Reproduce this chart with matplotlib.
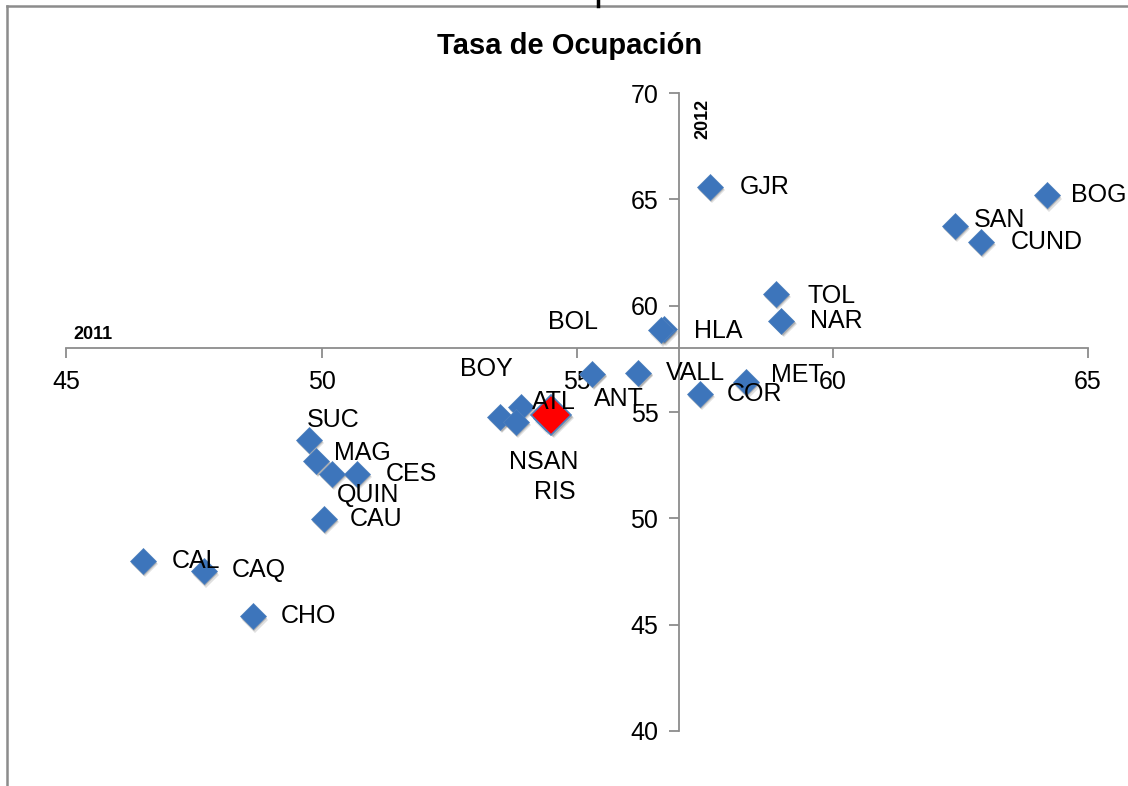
import matplotlib.pyplot as plt
from matplotlib.lines import Line2D
from matplotlib.transforms import offset_copy

plt.rcParams['font.family'] = ['Liberation Sans', 'DejaVu Sans']

# Tasa de ocupacion por departamento: 2011 (x) vs 2012 (y)
deptos = ['BOG', 'SAN', 'CUND', 'GJR', 'TOL', 'NAR', 'HLA', 'BOL', 'VALL', 'MET',
          'COR', 'ANT', 'ATL', 'BOY', 'NSAN', 'RIS', 'SUC', 'MAG', 'QUIN', 'CES',
          'CAU', 'CAL', 'CAQ', 'CHO']
tasa_2011 = [64.2, 62.4, 62.9, 57.6, 58.9, 59.0, 56.7, 56.65, 56.2, 58.3,
             57.4, 55.3, 53.9, 53.5, 53.8, 54.4, 49.75, 49.9, 50.2, 50.7,
             50.05, 46.5, 47.7, 48.65]
tasa_2012 = [65.2, 63.75, 63.0, 65.6, 60.55, 59.3, 58.9, 58.85, 56.84, 56.4,
             55.85, 56.8, 55.24, 54.77, 54.53, 54.7, 53.7, 52.7, 52.1, 52.1,
             49.97, 48.0, 47.5, 45.4]
# offsets of the data labels (pixels) and alignment
label_dx = [24, 19, 30, 30, 31, 29, 30, -63, 28, 25,
            27, 2, 11, -40, -7, -12, -2, 18, 5, 28,
            26, 29, 28, 28]
label_dy = [0, 6, 0, 0, -2, 0, -2, 8, 0, 7,
            0, -25, 5, 48, -40, -74, 20, 8, -21, 0,
            0, 0, 2, 0]
label_ha = ['left'] * 7 + ['right'] + ['left'] * 16

nacional_x = [54.5]
nacional_y = [54.86]

x_ticks = [45, 50, 55, 60, 65]
y_ticks = [40, 45, 50, 55, 60, 65, 70]

W, H = 1128, 786
fig = plt.figure(figsize=(W / 100, H / 100), dpi=100)
ax = fig.add_axes([66 / W, (H - 731) / H, (1088 - 66) / W, (731 - 93) / H])

azul = '#3d75bb'

# soft drop shadow under the markers (two offset layers)
for off, alpha in [(2, 0.25), (3.5, 0.15)]:
    sh = offset_copy(ax.transData, fig=fig, x=off * 0.6, y=-off, units='dots')
    ax.plot(tasa_2011, tasa_2012, linestyle='none', marker='D', markersize=13.5,
            color='#303030', alpha=alpha, markeredgewidth=0, transform=sh, zorder=2)
    ax.plot(nacional_x, nacional_y, linestyle='none', marker='D', markersize=20,
            color='#303030', alpha=alpha, markeredgewidth=0, transform=sh, zorder=2)

ax.plot(tasa_2011, tasa_2012, linestyle='none', marker='D', markersize=13.5,
        color=azul, markeredgecolor='#4f81bd', markeredgewidth=0.5, zorder=3)
ax.plot(nacional_x, nacional_y, linestyle='none', marker='D', markersize=20,
        color='#ff0000', markeredgecolor='#4f81bd', markeredgewidth=1.2, zorder=4)

for name, x, y, dx, dy, ha in zip(deptos, tasa_2011, tasa_2012, label_dx, label_dy, label_ha):
    ax.annotate(name, (x, y), xytext=(dx, dy), textcoords='offset pixels',
                ha=ha, va='center', fontsize=18, color='black', zorder=5)

ax.set_xlim(45, 65)
ax.set_ylim(40, 70)
ax.set_xticks(x_ticks)
ax.set_yticks(y_ticks)

gris = '#8c8c8c'
ax.spines['left'].set_position(('data', 57))
ax.spines['bottom'].set_position(('data', 58))
ax.spines['top'].set_visible(False)
ax.spines['right'].set_visible(False)
for s in ['left', 'bottom']:
    ax.spines[s].set_color(gris)
    ax.spines[s].set_linewidth(1.3)
ax.tick_params(axis='both', colors=gris, labelcolor='black', labelsize=18,
               length=7, width=1.3, direction='out')
ax.tick_params(axis='x', pad=9)
ax.tick_params(axis='y', pad=8)
ax.patch.set_alpha(0)

fig.text(570 / W, 1 - 46 / H, 'Tasa de Ocupación', ha='center', va='center',
         fontsize=21, fontweight='bold')
fig.text(93 / W, 1 - 334 / H, '2011', ha='center', va='center',
         fontsize=13, fontweight='bold')
fig.text(703 / W, 1 - 119 / H, '2012', ha='center', va='center',
         fontsize=13, fontweight='bold', rotation=90)

# slide border around the chart
fig.add_artist(Line2D([7 / W, 7 / W], [0, 1 - 6 / H], color=gris, linewidth=1.8))
fig.add_artist(Line2D([7 / W, 1], [1 - 6 / H, 1 - 6 / H], color=gris, linewidth=1.8))
fig.add_artist(Line2D([598 / W, 598 / W], [1 - 6 / H, 1], color='black', linewidth=2.5))

fig.savefig('out.png', dpi=100)
